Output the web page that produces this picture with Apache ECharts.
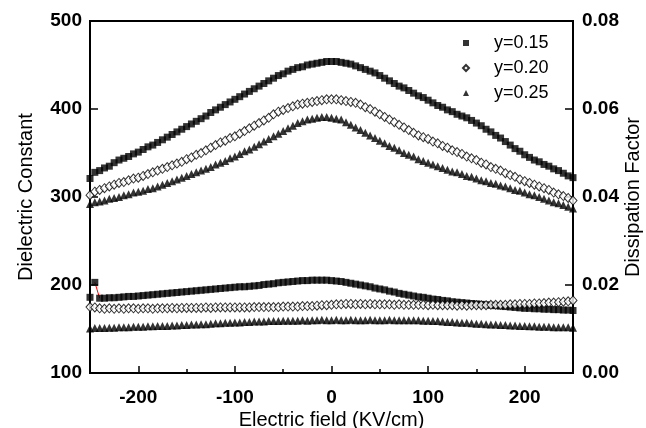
<!DOCTYPE html>
<html>
<head>
<meta charset="utf-8">
<script src="https://cdn.jsdelivr.net/npm/echarts@6/dist/echarts.min.js"></script>
<style>
  html, body { margin: 0; padding: 0; background: #fff; }
  #chart { width: 646px; height: 428px; }
</style>
</head>
<body>
<div id="chart"></div>
<script>
// electric field (KV/cm), one sweep
const field = [
  -250, -245, -240, -235, -230, -225, -220, -215, -210, -205,
  -200, -195, -190, -185, -180, -175, -170, -165, -160, -155,
  -150, -145, -140, -135, -130, -125, -120, -115, -110, -105,
  -100, -95, -90, -85, -80, -75, -70, -65, -60, -55,
  -50, -45, -40, -35, -30, -25, -20, -15, -10, -5,
  0, 5, 10, 15, 20, 25, 30, 35, 40, 45,
  50, 55, 60, 65, 70, 75, 80, 85, 90, 95,
  100, 105, 110, 115, 120, 125, 130, 135, 140, 145,
  150, 155, 160, 165, 170, 175, 180, 185, 190, 195,
  200, 205, 210, 215, 220, 225, 230, 235, 240, 245,
  250
];

// dielectric constant (left axis)
const eps15 = [
  321, 328, 330, 333, 335, 339, 342, 344, 346, 349,
  351, 354, 357, 359, 362, 365, 368, 371, 374, 377,
  380, 383, 386, 389, 392, 396, 399, 402, 405, 408,
  411, 414, 417, 420, 423, 426, 429, 432, 435, 438,
  440, 443, 445, 447, 448, 450, 451, 452, 453, 454,
  454, 454, 453, 452, 451, 449, 447, 445, 443, 441,
  438, 435, 432, 429, 426, 424, 421, 418, 415, 413,
  410, 407, 404, 402, 399, 397, 394, 392, 390, 387,
  384, 381, 377, 374, 370, 367, 363, 359, 355, 352,
  348, 345, 342, 340, 337, 335, 332, 330, 327, 324,
  322
];
const eps20 = [
  302, 306, 308, 310, 312, 314, 316, 317, 319, 321,
  322, 324, 326, 328, 330, 332, 334, 336, 338, 340,
  343, 345, 348, 350, 353, 356, 359, 362, 364, 367,
  369, 372, 375, 378, 381, 384, 387, 390, 394, 397,
  399, 401, 403, 405, 406, 407, 408, 409, 410, 411,
  411, 411, 410, 409, 408, 407, 405, 402, 400, 397,
  394, 391, 388, 385, 382, 379, 376, 373, 370, 368,
  366, 363, 361, 358, 356, 353, 351, 349, 346, 344,
  342, 339, 337, 334, 332, 330, 327, 325, 323, 320,
  318, 316, 314, 312, 310, 308, 305, 303, 301, 299,
  296
];
const eps25 = [
  292, 294, 295, 296, 298, 299, 300, 302, 303, 305,
  306, 307, 309, 310, 312, 314, 316, 318, 320, 322,
  324, 326, 328, 330, 332, 334, 337, 339, 341, 344,
  346, 349, 352, 354, 357, 360, 363, 366, 369, 372,
  375, 378, 381, 384, 386, 388, 389, 390, 391, 391,
  390, 389, 388, 385, 382, 379, 376, 373, 370, 367,
  364, 361, 358, 356, 353, 350, 348, 346, 343, 341,
  339, 337, 335, 333, 331, 329, 328, 326, 324, 323,
  321, 319, 318, 316, 315, 313, 312, 310, 308, 307,
  305, 303, 302, 300, 298, 296, 294, 293, 291, 289,
  287
];

// dissipation factor (right axis)
const tan15 = [
  0.0172, 0.0206, 0.0170, 0.0170, 0.0171, 0.0171, 0.0172, 0.0173, 0.0174, 0.0174,
  0.0175, 0.0176, 0.0177, 0.0178, 0.0179, 0.0180, 0.0181, 0.0182, 0.0183, 0.0184,
  0.0185, 0.0186, 0.0187, 0.0188, 0.0189, 0.0190, 0.0191, 0.0192, 0.0193, 0.0194,
  0.0195, 0.0196, 0.0196, 0.0197, 0.0198, 0.0199, 0.0201, 0.0202, 0.0203, 0.0205,
  0.0206, 0.0207, 0.0208, 0.0209, 0.0210, 0.0210, 0.0211, 0.0211, 0.0211, 0.0211,
  0.0210, 0.0209, 0.0208, 0.0206, 0.0204, 0.0202, 0.0200, 0.0198, 0.0196, 0.0193,
  0.0191, 0.0189, 0.0186, 0.0184, 0.0181, 0.0179, 0.0177, 0.0175, 0.0173, 0.0172,
  0.0170, 0.0168, 0.0167, 0.0165, 0.0164, 0.0162, 0.0161, 0.0160, 0.0159, 0.0158,
  0.0157, 0.0156, 0.0155, 0.0154, 0.0153, 0.0152, 0.0151, 0.0150, 0.0149, 0.0148,
  0.0147, 0.0147, 0.0146, 0.0146, 0.0145, 0.0145, 0.0144, 0.0144, 0.0143, 0.0143,
  0.0142
];
const tan20 = [
  0.0150, 0.0149, 0.0147, 0.0146, 0.0147, 0.0146, 0.0147, 0.0146, 0.0147, 0.0147,
  0.0146, 0.0147, 0.0147, 0.0146, 0.0147, 0.0147, 0.0147, 0.0148, 0.0147, 0.0148,
  0.0148, 0.0148, 0.0148, 0.0148, 0.0149, 0.0148, 0.0149, 0.0149, 0.0149, 0.0149,
  0.0149, 0.0149, 0.0149, 0.0149, 0.0150, 0.0150, 0.0150, 0.0150, 0.0150, 0.0150,
  0.0151, 0.0151, 0.0151, 0.0151, 0.0152, 0.0152, 0.0152, 0.0153, 0.0154, 0.0154,
  0.0155, 0.0156, 0.0156, 0.0157, 0.0157, 0.0156, 0.0157, 0.0156, 0.0157, 0.0156,
  0.0156, 0.0156, 0.0156, 0.0155, 0.0156, 0.0155, 0.0155, 0.0155, 0.0155, 0.0155,
  0.0154, 0.0155, 0.0154, 0.0154, 0.0154, 0.0154, 0.0153, 0.0154, 0.0153, 0.0154,
  0.0154, 0.0154, 0.0154, 0.0155, 0.0155, 0.0155, 0.0155, 0.0156, 0.0156, 0.0157,
  0.0157, 0.0157, 0.0158, 0.0158, 0.0159, 0.0160, 0.0160, 0.0161, 0.0162, 0.0163,
  0.0165
];
const tan25 = [
  0.0101, 0.0102, 0.0102, 0.0102, 0.0103, 0.0103, 0.0104, 0.0104, 0.0104, 0.0105,
  0.0105, 0.0105, 0.0106, 0.0106, 0.0107, 0.0107, 0.0107, 0.0108, 0.0108, 0.0109,
  0.0109, 0.0110, 0.0110, 0.0111, 0.0111, 0.0112, 0.0113, 0.0113, 0.0114, 0.0114,
  0.0115, 0.0115, 0.0116, 0.0116, 0.0117, 0.0117, 0.0117, 0.0118, 0.0118, 0.0118,
  0.0119, 0.0119, 0.0119, 0.0119, 0.0120, 0.0119, 0.0120, 0.0120, 0.0121, 0.0120,
  0.0120, 0.0121, 0.0120, 0.0120, 0.0121, 0.0120, 0.0120, 0.0120, 0.0121, 0.0120,
  0.0120, 0.0120, 0.0121, 0.0120, 0.0120, 0.0120, 0.0120, 0.0120, 0.0120, 0.0119,
  0.0119, 0.0118, 0.0118, 0.0117, 0.0116, 0.0116, 0.0115, 0.0114, 0.0114, 0.0113,
  0.0112, 0.0112, 0.0111, 0.0110, 0.0110, 0.0109, 0.0109, 0.0108, 0.0108, 0.0107,
  0.0107, 0.0106, 0.0106, 0.0105, 0.0105, 0.0105, 0.0104, 0.0104, 0.0104, 0.0104,
  0.0103
];

// stray red segment at the start of the y=0.15 loss curve
const redSegment = [[-245, 0.0206], [-240, 0.0170]];

const names = ['y=0.15', 'y=0.20', 'y=0.25'];
const xMajor = [-200, -100, 0, 100, 200];
const xMinor = [-150, -50, 50, 150];

const font = 'Arial, "Liberation Sans", sans-serif';
const pairs = (ys) => field.map((x, i) => [x, ys[i]]);

const square = { symbol: 'rect', symbolSize: 7, itemStyle: { color: '#000' } };
const diamond = {
  symbol: 'diamond', symbolSize: [8, 9],
  itemStyle: { color: '#fff', borderColor: '#000', borderWidth: 1 }
};
const triangle = { symbol: 'triangle', symbolSize: 8, itemStyle: { color: '#000' } };

const chart = echarts.init(document.getElementById('chart'), null, { renderer: 'canvas' });

const xBase = {
  type: 'value', min: -250, max: 250, interval: 50,
  position: 'bottom', splitLine: { show: false }
};
const nameStyle = { fontSize: 20, color: '#000', fontFamily: font };
const tickFont = { fontSize: 19, fontWeight: 'bold', color: '#000', fontFamily: font };

chart.setOption({
  animation: false,
  textStyle: { fontFamily: font },
  grid: {
    left: 90, right: 73, top: 21, bottom: 55,
    containLabel: false, outerBoundsMode: 'none',
    show: true, borderColor: '#000', borderWidth: 2, backgroundColor: 'transparent'
  },
  legend: {
    data: names,
    orient: 'vertical',
    left: 457, top: 28,
    itemWidth: 6, itemHeight: 6, itemGap: 5,
    textStyle: { fontSize: 18, fontFamily: font, color: '#000', lineHeight: 20, padding: [0, 0, 0, 20] }
  },
  xAxis: [
    Object.assign({}, xBase, {
      name: 'Electric field (KV/cm)',
      nameLocation: 'middle', nameGap: 37, nameMoveOverlap: false,
      nameTextStyle: nameStyle,
      axisLine: { onZero: false, lineStyle: { color: '#000', width: 2 } },
      axisTick: { inside: true, length: 7, lineStyle: { color: '#000', width: 1.5 }, customValues: xMajor },
      axisLabel: Object.assign({ customValues: xMajor, margin: 15 }, tickFont)
    }),
    Object.assign({}, xBase, {
      offset: 0,
      axisLine: { show: false, onZero: false },
      axisTick: { inside: true, length: 4, lineStyle: { color: '#000', width: 1.5 }, customValues: xMinor },
      axisLabel: { show: false }
    })
  ],
  yAxis: [
    {
      type: 'value', position: 'left', min: 100, max: 500, interval: 100,
      name: 'Dielectric Constant', nameLocation: 'middle', nameRotate: 90, nameGap: 54,
      nameMoveOverlap: false,
      nameTextStyle: nameStyle,
      axisLine: { show: true, onZero: false, lineStyle: { color: '#000', width: 2 } },
      axisTick: { show: true, inside: true, length: 8, lineStyle: { color: '#000', width: 1.5 } },
      axisLabel: Object.assign({ margin: 8 }, tickFont),
      splitLine: { show: false }
    },
    {
      type: 'value', position: 'right', min: 0, max: 0.08, interval: 0.02,
      name: 'Dissipation Factor', nameLocation: 'middle', nameRotate: 90, nameGap: 50,
      nameMoveOverlap: false,
      nameTextStyle: nameStyle,
      axisLine: { show: true, onZero: false, lineStyle: { color: '#000', width: 2 } },
      axisTick: { show: true, inside: true, length: 8, lineStyle: { color: '#000', width: 1.5 } },
      axisLabel: Object.assign({ margin: 9, formatter: (v) => v.toFixed(2) }, tickFont),
      splitLine: { show: false }
    }
  ],
  series: [
    Object.assign({ name: names[0], type: 'scatter', yAxisIndex: 0, data: pairs(eps15) }, square),
    Object.assign({ name: names[1], type: 'scatter', yAxisIndex: 0, data: pairs(eps20) }, diamond),
    Object.assign({ name: names[2], type: 'scatter', yAxisIndex: 0, data: pairs(eps25) }, triangle),
    {
      type: 'line', yAxisIndex: 1, data: redSegment, symbol: 'none', silent: true,
      lineStyle: { color: '#ff0000', width: 1 }, z: 1
    },
    Object.assign({ name: names[0], type: 'scatter', yAxisIndex: 1, data: pairs(tan15) }, square),
    Object.assign({ name: names[1], type: 'scatter', yAxisIndex: 1, data: pairs(tan20) }, diamond),
    Object.assign({ name: names[2], type: 'scatter', yAxisIndex: 1, data: pairs(tan25) }, triangle)
  ]
});
</script>
</body>
</html>
